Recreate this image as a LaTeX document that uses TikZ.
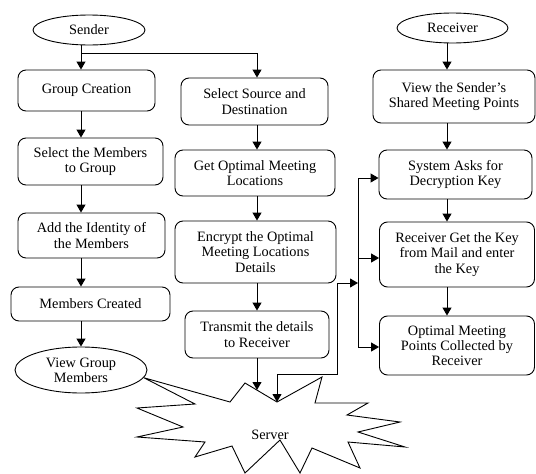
\documentclass[tikz,border=0pt]{standalone}
\usepackage{fontspec}
\setmainfont{Liberation Serif}
\usetikzlibrary{arrows.meta,shapes.geometric}
\begin{document}
\begin{tikzpicture}[x=1pt,y=-1pt,
  every node/.style={font=\fontsize{14.3}{15.3}\selectfont},
  box/.style={draw, rounded corners=8pt, align=center, inner sep=0pt, line width=0.9pt},
  oval/.style={draw, ellipse, align=center, inner sep=0pt, line width=0.9pt},
  arr/.style={-{Triangle[length=8pt,width=9pt]}, line width=1pt},
  arrboth/.style={{Triangle[length=8pt,width=9pt]}-{Triangle[length=8pt,width=9pt]}, line width=1pt},
  ln/.style={line width=1pt}]
\useasboundingbox (0,0) rectangle (536,474);

% columns
\coordinate (colA) at (81,0);
\coordinate (colB) at (257,0);
\coordinate (colC) at (447,0);
\coordinate (split) at (81,53);

% sender column
\node[oval, minimum width=112pt, minimum height=30pt] (sender) at (89,30) {Sender};
\node[box, minimum width=137pt, minimum height=41pt] (gc) at (86.5,90.5) {Group Creation};
\node[box, minimum width=145pt, minimum height=47pt] (sm) at (90.5,161.5) {Select the Members\\to Group};
\node[box, minimum width=147pt, minimum height=45pt] (ai) at (91.5,235.5) {Add the Identity of\\the Members};
\node[box, minimum width=159pt, minimum height=34pt] (mc) at (90.5,304) {Members Created};
\node[oval, minimum width=132pt, minimum height=46pt] (vg) at (81,370) {View Group\\Members};

% middle column
\node[box, minimum width=147pt, minimum height=47pt] (ss) at (254.5,101.5) {Select Source and\\Destination};
\node[box, minimum width=160pt, minimum height=46pt] (go) at (255,173) {Get Optimal Meeting\\Locations};
\node[box, minimum width=161pt, minimum height=62pt] (en) at (255.5,252) {Encrypt the Optimal\\Meeting Locations\\Details};
\node[box, minimum width=144pt, minimum height=47pt] (tr) at (257,334.5) {Transmit the details\\to Receiver};

% receiver column
\node[oval, minimum width=111pt, minimum height=30pt] (rc) at (452.5,28) {Receiver};
\node[box, minimum width=162pt, minimum height=53pt] (vs) at (454,96.5) {View the Sender’s\\Shared Meeting Points};
\node[box, minimum width=153pt, minimum height=49pt] (sa) at (455.5,174.5) {System Asks for\\Decryption Key};
\node[box, minimum width=155pt, minimum height=65pt] (rg) at (457,254.5) {Receiver Get the Key\\from Mail and enter\\the Key};
\node[box, minimum width=155pt, minimum height=59pt] (om) at (457,345.5) {Optimal Meeting\\Points Collected by\\Receiver};

% server star
\draw[line width=0.9pt] (vg.-7) -- (230,402) -- (245,383) -- (277,402) -- (322,377) -- (315,403)
  -- (368,403) -- (347,415) -- (400,422) -- (358,432) -- (405,447) -- (348,442) -- (360,468)
  -- (312,448) -- (300,473) -- (280,440) -- (245,473) -- (232,446) -- (195,457) -- (205,442)
  -- (137,437) -- (183,427) -- (137,408) -- (195,404) -- cycle;
\node (server) at (270,435) {Server};
\coordinate (sin1) at (257,390);
\coordinate (sin2) at (277,402);

% sender arrows
\draw[arr] (sender.south -| colA) -- (gc.north -| colA);
\draw[arr] (split) -| (ss.north -| colB);
\draw[arr] (gc.south -| colA) -- (sm.north -| colA);
\draw[arr] (sm.south -| colA) -- (ai.north -| colA);
\draw[arr] (ai.south -| colA) -- (mc.north -| colA);
\draw[arr] (mc.south -| colA) -- (vg.north -| colA);

% middle arrows
\draw[arr] (ss.south -| colB) -- (go.north -| colB);
\draw[arr] (go.south -| colB) -- (en.north -| colB);
\draw[arr] (en.south -| colB) -- (tr.north -| colB);
\draw[arr] (tr.south -| colB) -- (sin1);

% receiver arrows
\draw[arr] (rc.south -| colC) -- (vs.north -| colC);
\draw[arr] (vs.south -| colC) -- (sa.north -| colC);
\draw[arr] (sa.south -| colC) -- (rg.north -| colC);
\draw[arr] (rg.south -| colC) -- (om.north -| colC);

% feed from server
\coordinate (f1) at (358,178);
\coordinate (f2) at (358,258);
\coordinate (f3) at (358,347);
\coordinate (f4) at (358,283);
\coordinate (bend) at (337,374);
\draw[ln] (f1) -- (f3);
\draw[arr] (f1) -- (f1 -| sa.west);
\draw[arr] (f2) -- (f2 -| rg.west);
\draw[arr] (f3) -- (f3 -| om.west);
\draw[arrboth] (sin2) |- (bend) |- (f4);
\end{tikzpicture}
\end{document}
